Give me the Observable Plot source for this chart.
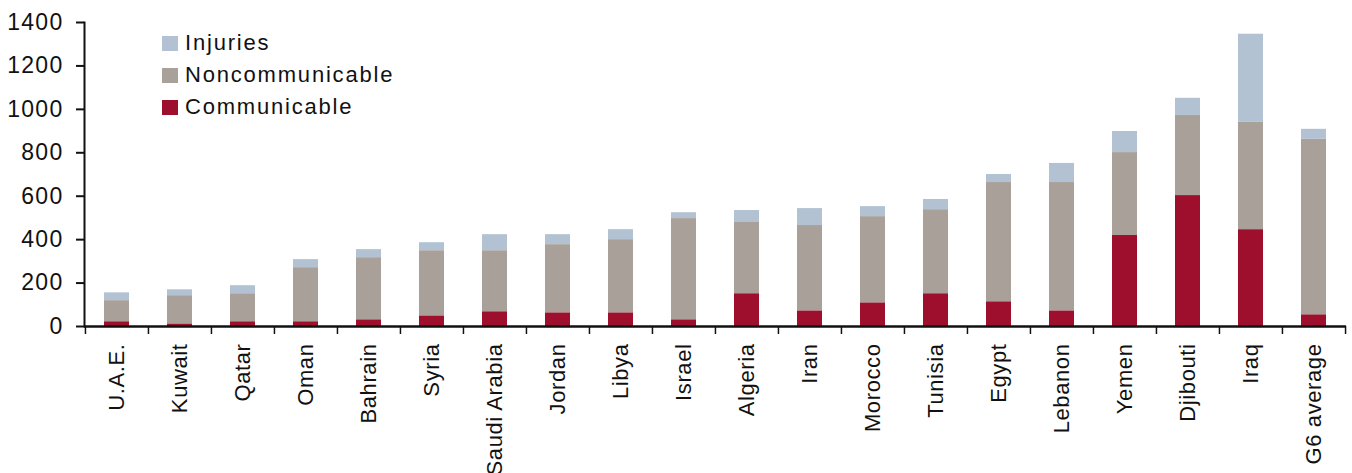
<!DOCTYPE html>
<html><head><meta charset="utf-8">
<script src="https://cdn.jsdelivr.net/npm/d3@7"></script>
<script src="https://cdn.jsdelivr.net/npm/@observablehq/plot@0.6"></script>
<style>
body{margin:0;background:#fff;font-family:"Liberation Sans",Arial,sans-serif;}
#wrap{position:relative;width:1352px;height:473px;overflow:hidden;}
#legend{position:absolute;left:162px;top:27px;}
.item{display:flex;align-items:center;height:32px;font-size:22px;letter-spacing:1.8px;color:#111}
.sw{width:16px;height:15px;margin-right:7px}
.yt text{letter-spacing:1.3px}
.xl text{letter-spacing:0.6px}
</style></head><body><div id="wrap"><div id="legend"></div></div>
<script>
const categories = ["U.A.E.","Kuwait","Qatar","Oman","Bahrain","Syria","Saudi Arabia","Jordan","Libya","Israel","Algeria","Iran","Morocco","Tunisia","Egypt","Lebanon","Yemen","Djibouti","Iraq","G6 average"];
const communicable    = [22, 12, 22, 22, 31, 49, 68, 63, 63, 31, 151, 72, 109, 151, 114, 72, 419, 603, 446, 54];
const noncommunicable = [97, 130, 129, 249, 286, 300, 281, 314, 337, 466, 328, 393, 397, 387, 549, 591, 382, 369, 494, 808];
const injuries        = [36, 27, 37, 37, 37, 37, 74, 46, 46, 27, 55, 78, 46, 47, 37, 88, 97, 79, 406, 46];
const yTicks = [0, 200, 400, 600, 800, 1000, 1200, 1400];
const seriesNames = ["Communicable", "Noncommunicable", "Injuries"];
const seriesColors = ["#9E0F2D", "#A9A199", "#B2C2D2"];
const legendOrder = ["Injuries", "Noncommunicable", "Communicable"];

const seriesValues = [communicable, noncommunicable, injuries];
const rows = [];
categories.forEach((c, i) => {
  seriesNames.forEach((s, j) => rows.push({category: c, series: s, value: seriesValues[j][i]}));
});

const W = 1352, H = 473, mL = 84, mR = 6, mT = 22, mB = 147;
const step = (W - mL - mR) / categories.length;

const chart = Plot.plot({
  width: W, height: H,
  marginLeft: mL, marginRight: mR, marginTop: mT, marginBottom: mB,
  style: {fontFamily: "'Liberation Sans', Arial, sans-serif", color: "#111", background: "#fff"},
  x: {domain: categories, paddingInner: 0.6, paddingOuter: 0.3, axis: null, label: null},
  y: {domain: [0, 1400], axis: null, label: null},
  color: {domain: seriesNames, range: seriesColors},
  marks: [
    Plot.barY(rows, {x: "category", y: "value", fill: "series", order: seriesNames}),
    Plot.frame({anchor: "left", stroke: "#111", strokeWidth: 2}),
    Plot.axisY(yTicks, {tickSize: 8, tickPadding: 13, fontSize: 23, strokeWidth: 2, tickFormat: d3.format("d"), label: null, className: "yt"}),
    Plot.ruleY([0], {strokeWidth: 2.5, stroke: "#111"}),
    Plot.axisX(categories, {tickSize: 8, strokeWidth: 1.5, dx: -step / 2, text: null, label: null}),
    Plot.axisX([categories[categories.length - 1]], {tickSize: 8, strokeWidth: 1.5, dx: step / 2, text: null, label: null}),
    Plot.axisX(categories, {tickSize: 0, tickRotate: -90, tickPadding: 17, fontSize: 22, label: null, className: "xl"})
  ]
});
const wrap = document.getElementById("wrap");
wrap.insertBefore(chart, wrap.firstChild);

const legend = document.getElementById("legend");
legendOrder.forEach(name => {
  const item = document.createElement("div");
  item.className = "item";
  const sw = document.createElement("div");
  sw.className = "sw";
  sw.style.background = seriesColors[seriesNames.indexOf(name)];
  const t = document.createElement("span");
  t.textContent = name;
  item.appendChild(sw); item.appendChild(t);
  legend.appendChild(item);
});
</script></body></html>
